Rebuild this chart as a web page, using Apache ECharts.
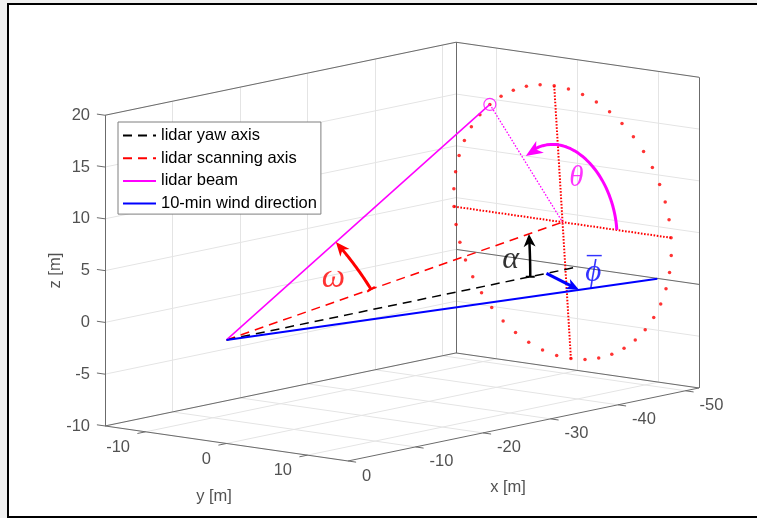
<!DOCTYPE html>
<html>
<head>
<meta charset="utf-8">
<script src="https://cdn.jsdelivr.net/npm/echarts@6/dist/echarts.min.js"></script>
<style>
  html, body { margin: 0; padding: 0; width: 757px; height: 518px; background: #f0f0f0; overflow: hidden; }
  .bar { position: absolute; background: #000; }
  #paper { position: absolute; left: 9px; top: 5px; width: 748px; height: 511px; background: #fff; }
  #chart { position: absolute; left: 0; top: 0; width: 757px; height: 518px; }
  #edge { position: absolute; left: 745px; top: 5px; width: 12px; height: 511px; background: #fff; z-index: 10; }
</style>
</head>
<body>
<div id="paper"></div>
<div class="bar" style="left:7px;top:3px;width:750px;height:2px"></div>
<div class="bar" style="left:7px;top:516px;width:750px;height:2px"></div>
<div class="bar" style="left:7px;top:3px;width:2px;height:515px"></div>
<div id="chart"></div>
<div id="edge"></div>
<script>
// ---- axis limits and ticks (metres) ----
const xLimits = [-52, 0];
const yLimits = [-15, 15];
const zLimits = [-10, 20];
const xTicks = [0, -10, -20, -30, -40, -50];
const yTicks = [-10, 0, 10];
const zTicks = [-10, -5, 0, 5, 10, 15, 20];

// ---- lidar / wind geometry ----
const lidarPosition = [0, 0, 0];
const yawAxisLength = 52;
const tiltDeg = 5.3;             // alpha: scanning axis tilt above the yaw axis
const scanDistance = 50;         // range to the scanning circle centre
const coneHalfAngleDeg = 15;     // half opening angle of the scan cone
const beamThetaDeg = 127.5;      // theta: azimuth of the beam on the scan circle
const scanPointStepDeg = 7.5;    // spacing of the measurement points on the circle
const windDirDeg = 10.9;         // mean 10-min wind direction relative to the yaw axis
const windLineLength = 52.8;

// ---- angle markers ----
const omegaArcRadius = 21.5;
const alphaArcRadius = 45;
const thetaArcRadii = [6.7, 7.6];
const phiArrowRadii = [47.4, 43.2];

// ---- legend entries ----
const legendNames = ['lidar yaw axis', 'lidar scanning axis', 'lidar beam', '10-min wind direction'];

// ---- orthographic view of the 3-D scene onto the page ----
const view = { origin: [226.5, 339.9], ex: [-6.75, 1.404], ey: [8.1, 1.167], ez: [0, -10.357] };
function project(p) {
  return [
    view.origin[0] + p[0] * view.ex[0] + p[1] * view.ey[0] + p[2] * view.ez[0],
    view.origin[1] + p[0] * view.ex[1] + p[1] * view.ey[1] + p[2] * view.ez[1]
  ];
}
const add = (a, b) => [a[0] + b[0], a[1] + b[1], a[2] + b[2]];
const mul = (a, s) => [a[0] * s, a[1] * s, a[2] * s];
const rad = d => d * Math.PI / 180;

// scanning geometry
const a = rad(tiltDeg);
const scanDir = [-Math.cos(a), 0, Math.sin(a)];
const circleCentre = add(lidarPosition, mul(scanDir, scanDistance));
const coneRadius = scanDistance * Math.tan(rad(coneHalfAngleDeg));
const uDir = [0, 1, 0];                       // horizontal in the scan plane
const vDir = [Math.sin(a), 0, Math.cos(a)];   // "up" in the scan plane
const onCircle = (r, deg) => add(circleCentre, add(mul(uDir, r * Math.cos(rad(deg))), mul(vDir, r * Math.sin(rad(deg)))));
const beamPoint = onCircle(coneRadius, beamThetaDeg);
const yawEnd = add(lidarPosition, [-yawAxisLength, 0, 0]);
const windDir = [-Math.cos(rad(windDirDeg)), Math.sin(rad(windDirDeg)), 0];
const windEnd = add(lidarPosition, mul(windDir, windLineLength));

const scanPoints = [];
for (let d = 0; d < 360; d += scanPointStepDeg) scanPoints.push(project(onCircle(coneRadius, d)));

// arc between two unit directions around the lidar
function norm(v) { const m = Math.hypot(v[0], v[1], v[2]); return mul(v, 1 / m); }
function arcBetween(d1, d2, r, n) {
  const pts = [];
  const ang = Math.acos(Math.max(-1, Math.min(1, d1[0] * d2[0] + d1[1] * d2[1] + d1[2] * d2[2])));
  for (let i = 0; i <= n; i++) {
    const t = i / n;
    const s1 = Math.sin((1 - t) * ang) / Math.sin(ang), s2 = Math.sin(t * ang) / Math.sin(ang);
    pts.push(add(lidarPosition, mul(add(mul(d1, s1), mul(d2, s2)), r)));
  }
  return pts;
}
const beamDir = norm(add(beamPoint, mul(lidarPosition, -1)));
const omegaArc = arcBetween(scanDir, beamDir, omegaArcRadius, 40);
const alphaArc = arcBetween([-1, 0, 0], scanDir, alphaArcRadius, 20);
const phiArrow = [mul([-1, 0, 0], phiArrowRadii[0]), mul(windDir, phiArrowRadii[1])];
const thetaArc = [];
for (let i = 0; i <= 60; i++) {
  const d = beamThetaDeg * i / 60;
  thetaArc.push(add(circleCentre, add(mul(uDir, thetaArcRadii[0] * Math.cos(rad(d))), mul(vDir, thetaArcRadii[1] * Math.sin(rad(d))))));
}

// arrow shafts are trimmed so the heads sit on the end points
const heads = [];
function arrow(points3d, color, len, wid, withTail) {
  const p = points3d.map(project);
  const tip = p[p.length - 1];
  let k = p.length - 2;
  while (k > 0 && Math.hypot(tip[0] - p[k][0], tip[1] - p[k][1]) < len) k--;
  const from = p[k];
  heads.push({ value: [0, tip[0], tip[1], from[0], from[1], len, wid], itemStyle: { color } });
  if (withTail) heads.push({ value: [1, p[0][0], p[0][1], p[1][0] * 2 - p[0][0], p[1][1] * 2 - p[0][1], 0, 9], itemStyle: { color } });
  const dx = tip[0] - from[0], dy = tip[1] - from[1], m = Math.hypot(dx, dy);
  const cut = len * 0.6;
  const shaft = p.filter(q => Math.hypot(tip[0] - q[0], tip[1] - q[1]) > cut);
  shaft.push([tip[0] - dx / m * cut, tip[1] - dy / m * cut]);
  return shaft;
}
const omegaShaft = arrow(omegaArc, '#ff0000', 14, 12, true);
const alphaShaft = arrow(alphaArc, '#000000', 13, 12, true);
const phiShaft = arrow(phiArrow, '#0000ff', 13, 11, false);
const thetaShaft = arrow(thetaArc, '#ff00ff', 17, 14, false);

// ---- box, grid and ticks ----
const [x0, x1] = xLimits, [y0, y1] = yLimits, [z0, z1] = zLimits;
const seg = (p, q) => ({ coords: [project(p), project(q)] });
const gridSegs = [];
xTicks.forEach(x => { gridSegs.push(seg([x, y0, z0], [x, y0, z1])); gridSegs.push(seg([x, y0, z0], [x, y1, z0])); });
yTicks.forEach(y => { gridSegs.push(seg([x0, y, z0], [x0, y, z1])); gridSegs.push(seg([x1, y, z0], [x0, y, z0])); });
zTicks.forEach(z => { gridSegs.push(seg([x1, y0, z], [x0, y0, z])); gridSegs.push(seg([x0, y0, z], [x0, y1, z])); });
const boxSegs = [
  seg([x1, y0, z0], [x1, y0, z1]), seg([x1, y0, z0], [x1, y1, z0]), seg([x1, y1, z0], [x0, y1, z0]),
  seg([x1, y0, z0], [x0, y0, z0]), seg([x0, y0, z0], [x0, y1, z0]), seg([x0, y0, z0], [x0, y0, z1]),
  seg([x0, y1, z0], [x0, y1, z1]), seg([x1, y0, z1], [x0, y0, z1]), seg([x0, y0, z1], [x0, y1, z1]),
  seg([x0, y0, 0], [x0, y1, 0])
];
zTicks.forEach(z => boxSegs.push(seg([x1, y0, z], [x1, y0 - 1, z])));
yTicks.forEach(y => boxSegs.push(seg([x1, y, z0], [x1 + 1.2, y, z0])));
xTicks.forEach(x => boxSegs.push(seg([x, y1, z0], [x, y1 + 1, z0])));

const tickFont = { fontFamily: 'Liberation Sans, Arial, sans-serif', fontSize: 16.5, color: '#262626' };
const tickLabels = [];
zTicks.forEach(z => tickLabels.push({ value: project([x1, y0, z]), label: { formatter: String(z), align: 'right', verticalAlign: 'middle', offset: [-15, 0] } }));
yTicks.forEach(y => tickLabels.push({ value: project([x1, y, z0]), label: { formatter: String(y), align: 'right', verticalAlign: 'middle', offset: [-15.5, 15.5] } }));
xTicks.forEach(x => tickLabels.push({ value: project([x, y1, z0]), label: { formatter: String(x), align: 'left', verticalAlign: 'middle', offset: [14, 15] } }));
tickLabels.push({ value: project([(x0 + x1) / 2, y1, z0]), label: { formatter: 'x [m]', align: 'center', verticalAlign: 'middle', offset: [-15.5, 62.5] } });
tickLabels.push({ value: project([x1, (y0 + y1) / 2, z0]), label: { formatter: 'y [m]', align: 'center', verticalAlign: 'middle', offset: [-12.5, 52.5] } });
tickLabels.push({ value: project([x1, y0, (z0 + z1) / 2]), label: { formatter: 'z [m]', align: 'center', verticalAlign: 'middle', offset: [0, -50], rotate: 90 } });

// ---- Greek annotations ----
const greek = { fontFamily: 'Liberation Serif, Times New Roman, serif', fontStyle: 'italic', fontSize: 30 };
const angleLabels = [
  { value: project(onCircle(5.0, 65.7)), label: { formatter: 'θ', color: '#ff00ff', fontSize: 29 } },
  { value: project([-15.85, 0, 3.83]), label: { formatter: 'ω', color: '#ff0000', fontSize: 33 } },
  { value: project([-42.1, 0, 2.0]), label: { formatter: 'α', color: '#000000', fontSize: 32 } },
  { value: project([-50, 3.6, 0.5]), label: {
      formatter: '{bar|—}\n{g|ϕ}', color: '#0000ff',
      rich: {
        bar: { fontFamily: 'Liberation Sans, sans-serif', fontStyle: 'normal', fontSize: 15, fontWeight: 'bold', color: '#0000ff', lineHeight: 8, align: 'center', padding: [0, 0, 0, 2] },
        g: { fontFamily: 'Liberation Serif, serif', fontStyle: 'italic', fontSize: 31, color: '#0000ff', lineHeight: 26, align: 'center' }
      } } }
];

const P = project;
const chart = echarts.init(document.getElementById('chart'), null, { renderer: 'canvas' });
chart.setOption({
  backgroundColor: 'transparent',
  animation: false,
  grid: { left: 0, right: 0, top: 0, bottom: 0 },
  xAxis: { type: 'value', min: 0, max: 757, show: false },
  yAxis: { type: 'value', min: 0, max: 518, inverse: true, show: false },
  legend: {
    data: legendNames, orient: 'vertical', left: 118, top: 122,
    itemWidth: 33, itemHeight: 14, itemGap: 5.7, padding: [5, 4, 2, 4],
    backgroundColor: '#fff', borderColor: '#7f7f7f', borderWidth: 1, borderRadius: 0,
    selectedMode: false,
    itemStyle: { opacity: 0 },
    textStyle: { fontFamily: 'Liberation Sans, Arial, sans-serif', fontSize: 16.5, color: '#000', lineHeight: 16 }
  },
  series: [
    { type: 'lines', coordinateSystem: 'cartesian2d', data: gridSegs, silent: true, z: 1,
      lineStyle: { color: '#e4e4e4', width: 1, opacity: 1 } },
    { type: 'lines', coordinateSystem: 'cartesian2d', data: boxSegs, silent: true, z: 2,
      lineStyle: { color: '#6b6b6b', width: 1, opacity: 1 } },
    { type: 'scatter', data: tickLabels, symbolSize: 0, silent: true, z: 2,
      label: Object.assign({ show: true, position: 'inside' }, tickFont) },
    // scan circle cross and measurement points
    { type: 'line', data: [P(onCircle(coneRadius, 180)), P(onCircle(coneRadius, 0))], symbol: 'none', silent: true, z: 3,
      lineStyle: { color: '#ff0000', width: 2, type: [1.6, 1.6] } },
    { type: 'line', data: [P(onCircle(coneRadius, 90)), P(onCircle(coneRadius, 270))], symbol: 'none', silent: true, z: 3,
      lineStyle: { color: '#ff0000', width: 2, type: [1.6, 1.6] } },
    { type: 'scatter', data: scanPoints, symbol: 'circle', symbolSize: 3.5, silent: true, z: 3,
      itemStyle: { color: '#ff0000' } },
    { type: 'line', data: [P(beamPoint), P(circleCentre)], symbol: 'none', silent: true, z: 3,
      lineStyle: { color: '#ff00ff', width: 1.3, type: [1.6, 1.6] } },
    // main lines
    { type: 'line', name: legendNames[1], data: [P(lidarPosition), P(circleCentre)], symbol: 'none', z: 4,
      lineStyle: { color: '#ff0000', width: 1.5, type: [9, 6] }, itemStyle: { color: '#ff0000' } },
    { type: 'line', name: legendNames[0], data: [P(lidarPosition), P(yawEnd)], symbol: 'none', z: 4,
      lineStyle: { color: '#000000', width: 1.5, type: [9, 6] }, itemStyle: { color: '#000000' } },
    { type: 'line', name: legendNames[2], data: [P(lidarPosition), P(beamPoint)], symbol: 'none', z: 4,
      lineStyle: { color: '#ff00ff', width: 1.5 }, itemStyle: { color: '#ff00ff' } },
    { type: 'line', name: legendNames[3], data: [P(lidarPosition), P(windEnd)], symbol: 'none', z: 4,
      lineStyle: { color: '#0000ff', width: 2 }, itemStyle: { color: '#0000ff' } },
    { type: 'scatter', data: [P(beamPoint)], symbol: 'circle', symbolSize: 12, silent: true, z: 4,
      itemStyle: { color: 'rgba(0,0,0,0)', borderColor: '#ff00ff', borderWidth: 1.2 } },
    // angle arrows
    { type: 'line', data: thetaShaft, symbol: 'none', silent: true, z: 5, lineStyle: { color: '#ff00ff', width: 3 } },
    { type: 'line', data: omegaShaft, symbol: 'none', silent: true, z: 5, lineStyle: { color: '#ff0000', width: 3 } },
    { type: 'line', data: alphaShaft, symbol: 'none', silent: true, z: 5, lineStyle: { color: '#000000', width: 2.5 } },
    { type: 'line', data: phiShaft, symbol: 'none', silent: true, z: 5, lineStyle: { color: '#0000ff', width: 3 } },
    { type: 'custom', data: heads, silent: true, z: 6, clip: false,
      encode: { x: 1, y: 2 },
      renderItem: function (params, api) {
        const kind = api.value(0);
        const tip = api.coord([api.value(1), api.value(2)]);
        const from = api.coord([api.value(3), api.value(4)]);
        const len = api.value(5), wid = api.value(6);
        let dx = tip[0] - from[0], dy = tip[1] - from[1];
        const m = Math.hypot(dx, dy); dx /= m; dy /= m;
        const nx = -dy, ny = dx;
        const color = api.visual('color');
        if (kind === 0) {
          const bx = tip[0] - dx * len, by = tip[1] - dy * len;
          const notch = [tip[0] - dx * len * 0.72, tip[1] - dy * len * 0.72];
          return { type: 'polygon', shape: { points: [tip, [bx + nx * wid / 2, by + ny * wid / 2], notch, [bx - nx * wid / 2, by - ny * wid / 2]] },
                   style: { fill: color } };
        }
        return { type: 'line', shape: { x1: tip[0] + nx * wid / 2, y1: tip[1] + ny * wid / 2, x2: tip[0] - nx * wid / 2, y2: tip[1] - ny * wid / 2 },
                 style: { stroke: color, lineWidth: 2 } };
      } },
    { type: 'scatter', data: angleLabels, symbolSize: 0, silent: true, z: 7,
      label: Object.assign({ show: true, position: 'inside', align: 'center', verticalAlign: 'middle' }, greek) }
  ]
});
</script>
</body>
</html>
